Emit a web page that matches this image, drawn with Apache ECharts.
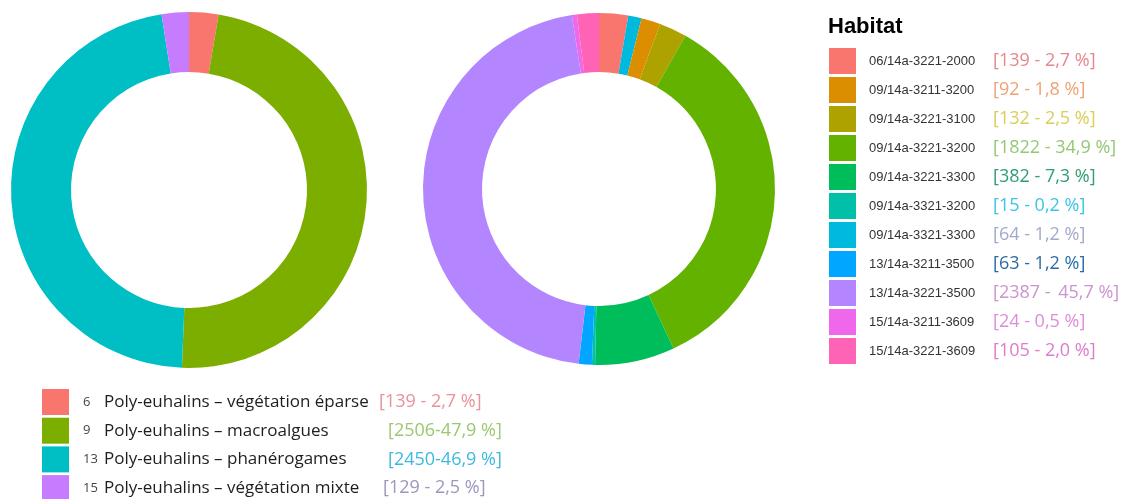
<!DOCTYPE html>
<html>
<head>
<meta charset="utf-8">
<script src="https://cdn.jsdelivr.net/npm/echarts@6/dist/echarts.min.js"></script>
<style>
html,body{margin:0;padding:0;background:#fff;}
#chart{width:1121px;height:499px;}
</style>
</head>
<body>
<div id="chart"></div>
<script>
// ---- data: left ring (groups) ----
const groupCodes = ['6', '9', '13', '15'];
const groupNames = ['Poly-euhalins – végétation éparse', 'Poly-euhalins – macroalgues', 'Poly-euhalins – phanérogames', 'Poly-euhalins – végétation mixte'];
const groupValues = [139, 2506, 2450, 129];
const groupLabels = ['[139 - 2,7 %]', '[2506-47,9 %]', '[2450-46,9 %]', '[129 - 2,5 %]'];

// ---- data: right ring (habitats, legend order) ----
const habitatNames = ['06/14a-3221-2000', '09/14a-3211-3200', '09/14a-3221-3100', '09/14a-3221-3200', '09/14a-3221-3300', '09/14a-3321-3200', '09/14a-3321-3300', '13/14a-3211-3500', '13/14a-3221-3500', '15/14a-3211-3609', '15/14a-3221-3609'];
const habitatValues = [139, 92, 132, 1822, 382, 15, 64, 63, 2387, 24, 105];
const habitatLabels = ['[139 - 2,7 %]', '[92 - 1,8 %]', '[132 - 2,5 %]', '[1822 - 34,9 %]', '[382 - 7,3 %]', '[15 - 0,2 %]', '[64 - 1,2 %]', '[63 - 1,2 %]', '[2387 - \u200945,7 %]', '[24 - 0,5 %]', '[105 - 2,0 %]'];
// order of the slices around the ring, clockwise from 12 o'clock
const habitatRingOrder = ['06/14a-3221-2000', '09/14a-3321-3300', '09/14a-3211-3200', '09/14a-3221-3100', '09/14a-3221-3200', '09/14a-3221-3300', '09/14a-3321-3200', '13/14a-3211-3500', '13/14a-3221-3500', '15/14a-3211-3609', '15/14a-3221-3609'];

// ---- styles ----
const groupColors = ['#F8766D', '#7CAE00', '#00BFC4', '#C77CFF'];
const groupLabelColors = ['#E8939A', '#9CC870', '#3CB9E0', '#9A98BC'];
const groupNameWidths = [275, 284, 284, 279];
const habitatColors = ['#F8766D', '#DB8E00', '#AEA200', '#64B200', '#00BD5C', '#00C1A7', '#00BADE', '#00A6FF', '#B385FF', '#EF67EB', '#FF63B6'];
const habitatLabelColors = ['#E8868E', '#F0A274', '#D8CE58', '#93C874', '#2F9E70', '#3CC4E6', '#A0AACC', '#2B6BA5', '#CC94CC', '#E08CDA', '#DE7CCB'];

const groupData = groupNames.map((n, i) => ({ name: n, value: groupValues[i], itemStyle: { color: groupColors[i] } }));
const habitatData = habitatRingOrder.map(n => {
  const i = habitatNames.indexOf(n);
  return { name: n, value: habitatValues[i], itemStyle: { color: habitatColors[i] } };
});

const groupRich = {
  n: { fontFamily: 'Open Sans', fontSize: 13, color: '#444', width: 21, padding: [0, 0, 0, 9], lineHeight: 20 }
};
groupNames.forEach((n, i) => {
  groupRich['t' + i] = { fontFamily: 'Open Sans', fontSize: 17, color: '#1e1e1e', width: groupNameWidths[i], lineHeight: 20 };
  groupRich['v' + i] = { fontFamily: 'Open Sans', fontSize: 18, color: groupLabelColors[i], lineHeight: 20 };
});
const habitatRich = {
  a: { fontFamily: 'Liberation Sans', fontSize: 13, color: '#333', width: 124, padding: [0, 0, 0, 8], lineHeight: 20 }
};
habitatNames.forEach((n, i) => {
  habitatRich['v' + i] = { fontFamily: 'Open Sans', fontSize: 18, color: habitatLabelColors[i], lineHeight: 20 };
});

const chart = echarts.init(document.getElementById('chart'), null, { renderer: 'canvas' });
chart.setOption({
  animation: false,
  backgroundColor: '#fff',
  title: {
    text: 'Habitat', left: 828, top: 16, padding: 0,
    textStyle: { fontFamily: 'Liberation Sans', fontSize: 22, fontWeight: 'bold', color: '#000' }
  },
  legend: [
    {
      orient: 'vertical', left: 42, top: 389, height: 200, padding: 0,
      itemWidth: 27, itemHeight: 26, itemGap: 2.7, icon: 'rect',
      selectedMode: false,
      data: groupNames,
      formatter: name => {
        const i = groupNames.indexOf(name);
        return '{n|' + groupCodes[i] + '}{t' + i + '|' + name + '}{v' + i + '|' + groupLabels[i] + '}';
      },
      textStyle: { rich: groupRich }
    },
    {
      orient: 'vertical', left: 829, top: 48, padding: 0,
      itemWidth: 27, itemHeight: 26, itemGap: 3, icon: 'rect',
      selectedMode: false,
      data: habitatNames,
      formatter: name => {
        const i = habitatNames.indexOf(name);
        return '{a|' + name + '}{v' + i + '|' + habitatLabels[i] + '}';
      },
      textStyle: { rich: habitatRich }
    }
  ],
  series: [
    {
      type: 'pie', name: 'groups',
      center: [189, 190], radius: [118, 178],
      startAngle: 90, clockwise: true,
      label: { show: false }, labelLine: { show: false },
      itemStyle: { borderWidth: 0 },
      emphasis: { disabled: true },
      avoidLabelOverlap: false,
      data: groupData
    },
    {
      type: 'pie', name: 'habitats',
      center: [599, 189], radius: [117, 176],
      startAngle: 90, clockwise: true,
      label: { show: false }, labelLine: { show: false },
      itemStyle: { borderWidth: 0 },
      emphasis: { disabled: true },
      avoidLabelOverlap: false,
      data: habitatData
    }
  ]
});
</script>
</body>
</html>
